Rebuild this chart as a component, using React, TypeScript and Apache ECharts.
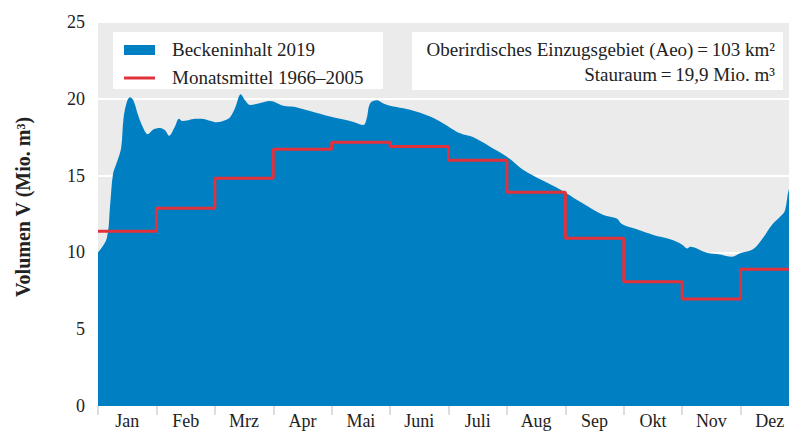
import React, { useEffect, useRef } from "react";
import * as echarts from "echarts";

const months = ["Jan", "Feb", "Mrz", "Apr", "Mai", "Juni", "Juli", "Aug", "Sep", "Okt", "Nov", "Dez"];

// position in months (0 = 1 Jan, 12 = 31 Dez) and volume in Mio. m³, Beckeninhalt 2019
const volX = [
  0, 0.149, 0.208, 0.257, 0.317, 0.396, 0.436, 0.495, 0.548, 0.604, 0.69, 0.775, 0.851, 0.947,
  1.061, 1.148, 1.216, 1.318, 1.387, 1.444, 1.546, 1.661, 1.775, 1.918,
  2.033, 2.174, 2.261, 2.346, 2.444, 2.517, 2.602, 2.745, 2.945,
  3.173, 3.374, 3.63, 3.973, 4.315, 4.543, 4.6, 4.657, 4.772, 4.885,
  4.999, 5.227, 5.457, 5.685, 5.912, 6.027, 6.199, 6.426, 6.712,
  6.998, 7.282, 7.568, 7.911, 8.253, 8.652, 8.882, 8.966, 9.224, 9.508, 9.794,
  9.994, 10.09, 10.137, 10.423, 10.651, 10.851, 10.992, 11.22, 11.391, 11.535, 11.706, 11.763, 11.831, 12
];
const volY = [
  10.0, 10.9, 13.1, 15.1, 15.8, 16.8, 18.7, 19.8, 20.1, 19.9, 18.9, 18.1, 17.7, 18.0,
  18.1, 17.95, 17.6, 18.2, 18.7, 18.55, 18.6, 18.7, 18.7, 18.57,
  18.47, 18.6, 18.8, 19.4, 20.3, 19.9, 19.6, 19.7, 19.86,
  19.55, 19.47, 19.2, 18.84, 18.55, 18.3, 18.73, 19.7, 19.9, 19.7,
  19.55, 19.38, 19.16, 18.84, 18.4, 18.12, 17.75, 17.49, 16.88,
  16.23, 15.36, 14.76, 14.1, 13.3, 12.43, 12.2, 11.85, 11.5, 11.13, 10.85,
  10.52, 10.26, 10.37, 9.98, 9.87, 9.72, 9.94, 10.22, 10.98, 11.78, 12.43, 12.76, 14.17, 15.8
];

// Monatsmittel 1966–2005 (Mio. m³)
const monthlyMean = [11.38, 12.87, 14.82, 16.71, 17.17, 16.9, 16.0, 13.91, 10.92, 8.09, 6.97, 8.9];

const yTicks = [0, 5, 10, 15, 20, 25];

const FONT = "Liberation Serif";
const TXT = "#222222";
const BLUE = "#0080c2";
const RED = "#e3313c";

export default function App() {
  const ref = useRef<HTMLDivElement>(null);
  useEffect(() => {
    document.body.style.margin = "0";
    const chart = echarts.init(ref.current!, null, { renderer: "svg" });
    const areaData = volX.map((x, i) => [x, volY[i]]);
    const stepData = monthlyMean.map((v, i) => [i, v]);
    stepData.push([12, monthlyMean[11]]);
    chart.setOption({
      animation: false,
      textStyle: { fontFamily: FONT },
      grid: {
        left: 98, top: 22, right: 0, height: 384,
        show: true, backgroundColor: "#ebebeb", borderWidth: 0,
      },
      xAxis: [
        { type: "value", min: 0, max: 12, show: false },
        {
          type: "category", data: months, position: "bottom", boundaryGap: true,
          axisLine: { show: false },
          axisTick: { show: true, length: 9, lineStyle: { color: "#dddddd", width: 2 } },
          axisLabel: { color: TXT, fontSize: 18, fontFamily: FONT, margin: 6 },
          splitLine: { show: false },
        },
      ],
      yAxis: {
        type: "value", min: yTicks[0], max: yTicks[yTicks.length - 1], interval: 5,
        axisLine: { show: false }, axisTick: { show: false },
        axisLabel: { color: TXT, fontSize: 18, fontFamily: FONT, margin: 13 },
        splitLine: { show: true, lineStyle: { color: "#ffffff", width: 2 } },
      },
      graphic: [
        { type: "text", x: 23, y: 207, rotation: Math.PI / 2, style: { text: "Volumen V (Mio. m³)", fill: TXT, font: `bold 20px "${FONT}"`, align: "center", verticalAlign: "middle" } },
        { type: "rect", shape: { x: 113, y: 32, width: 270, height: 57 }, style: { fill: "#ffffff" }, z: 100 },
        { type: "rect", shape: { x: 124, y: 45, width: 31, height: 10 }, style: { fill: BLUE }, z: 101 },
        { type: "line", shape: { x1: 124, y1: 78, x2: 155, y2: 78 }, style: { stroke: RED, lineWidth: 3 }, z: 101 },
        { type: "text", x: 172, y: 49, style: { text: "Beckeninhalt 2019", fill: TXT, font: `19px "${FONT}"`, verticalAlign: "middle" }, z: 101 },
        { type: "text", x: 172, y: 77, style: { text: "Monatsmittel 1966–2005", fill: TXT, font: `19px "${FONT}"`, verticalAlign: "middle" }, z: 101 },
        { type: "rect", shape: { x: 412, y: 32, width: 371, height: 58 }, style: { fill: "#ffffff" }, z: 100 },
        { type: "text", x: 775, y: 49, style: { text: "Oberirdisches Einzugsgebiet (Aeo)\u2009=\u2009103 km²", fill: TXT, font: `19px "${FONT}"`, align: "right", verticalAlign: "middle" }, z: 101 },
        { type: "text", x: 775, y: 74, style: { text: "Stauraum\u2009=\u200919,9 Mio. m³", fill: TXT, font: `19px "${FONT}"`, align: "right", verticalAlign: "middle" }, z: 101 },
      ],
      series: [
        {
          name: "Beckeninhalt 2019", type: "line", xAxisIndex: 0, data: areaData,
          smooth: 0.35, symbol: "none", lineStyle: { width: 0 },
          areaStyle: { color: BLUE, opacity: 1 }, itemStyle: { color: BLUE }, z: 2,
        },
        {
          name: "Monatsmittel 1966–2005", type: "line", xAxisIndex: 0, data: stepData,
          step: "end", symbol: "none", lineStyle: { color: RED, width: 3 }, itemStyle: { color: RED }, z: 3,
        },
      ],
    });
    return () => chart.dispose();
  }, []);
  return (
    <div style={{ width: 789, height: 432, overflow: "hidden", position: "relative" }}>
      <div ref={ref} style={{ width: 799, height: 432 }} />
    </div>
  );
}
